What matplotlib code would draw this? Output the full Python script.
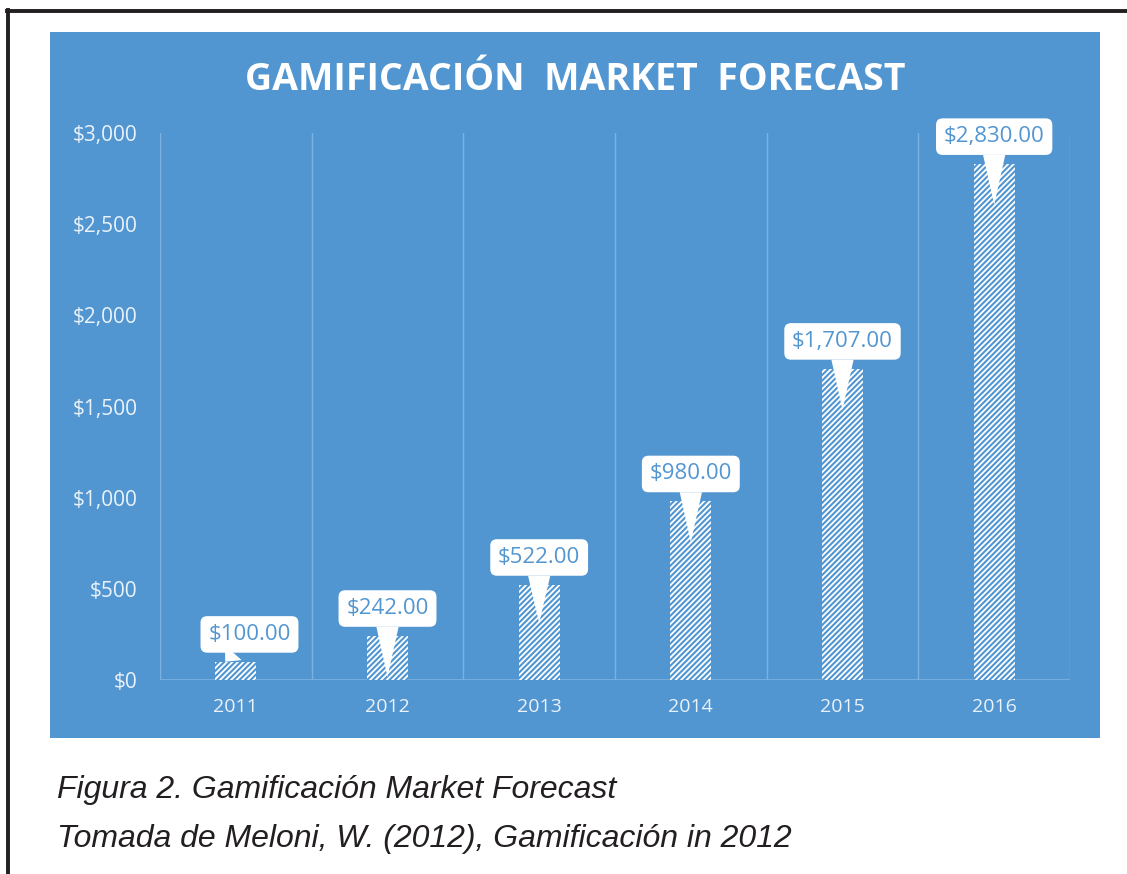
import numpy as np
import matplotlib
matplotlib.use('Agg')
import matplotlib.pyplot as plt
from matplotlib.patches import Rectangle

years = ['2011', '2012', '2013', '2014', '2015', '2016']
market = [100, 242, 522, 980, 1707, 2830]
yticks = [0, 500, 1000, 1500, 2000, 2500, 3000]

# how far each callout tail reaches down into its bar (data units)
tail_drop = [0, 225, 210, 225, 226, 225]
label_dx = [0.09, 0, 0, 0, 0, 0]

blue = '#5296D1'
grid = '#7DB1E0'
light = '#EAF2FA'

plt.rcParams['font.family'] = ['Open Sans', 'DejaVu Sans']
plt.rcParams['hatch.linewidth'] = 1.3

fig = plt.figure(figsize=(11.27, 8.74), dpi=100)
fig.patch.set_facecolor('white')

# outer black frame (top and left only)
fig.add_artist(plt.Line2D([7 / 1127, 1], [1 - 11 / 874, 1 - 11 / 874], color='#231F20', lw=2.8))
fig.add_artist(plt.Line2D([8 / 1127, 8 / 1127], [0, 1 - 10 / 874], color='#231F20', lw=2.8))

# blue chart panel
fig.add_artist(Rectangle((50 / 1127, 1 - 738 / 874), 1050 / 1127, 706 / 874,
                         transform=fig.transFigure, facecolor=blue, edgecolor='none', zorder=0))

ax = fig.add_axes([160 / 1127, 1 - 680 / 874, 910 / 1127, 547 / 874])
ax.set_facecolor('none')
x = np.arange(len(years))
ax.bar(x, market, width=0.27, color=blue, edgecolor='white', linewidth=0, hatch='//////', zorder=2)

ax.set_xlim(-0.5, len(years) - 0.5)
ax.set_ylim(0, 3000)
for g in np.arange(-0.5, len(years), 1):
    ax.axvline(g, color=grid, lw=1, zorder=1)
ax.axhline(0, color=grid, lw=1.2, zorder=1)

for s in ax.spines.values():
    s.set_visible(False)
ax.set_xticks(x)
ax.set_xticklabels(years, color=light, fontsize=14)
ax.set_yticks(yticks)
ax.set_yticklabels(['${:,}'.format(v) for v in yticks], color=light, fontsize=15)
ax.tick_params(length=0)
ax.tick_params(axis='x', pad=13)
ax.tick_params(axis='y', pad=16)

for i, v in enumerate(market):
    ax.annotate('${:,.2f}'.format(v), xy=(i - 0.07 * (i == 0), v - tail_drop[i]),
                xytext=(i + label_dx[i], v + 150), ha='center', va='center',
                fontsize=16, color=blue, zorder=5,
                bbox=dict(boxstyle='round,pad=0.35,rounding_size=0.3', fc='white', ec='none'),
                arrowprops=dict(arrowstyle='wedge,tail_width=1.0,shrink_factor=0.5',
                                fc='white', ec='none', shrinkA=0, shrinkB=0))

fig.text(575 / 1127, 1 - 80 / 874, 'GAMIFICACIÓN  MARKET  FORECAST', ha='center', va='center',
         color='white', fontsize=27, fontweight='bold')

fig.text(57 / 1127, 1 - 790 / 874, 'Figura 2. Gamificación Market Forecast',
         family='Liberation Sans', style='italic', fontsize=23, color='#231F20', va='center')
fig.text(57 / 1127, 1 - 839 / 874, 'Tomada de Meloni, W. (2012), Gamificación in 2012',
         family='Liberation Sans', style='italic', fontsize=23, color='#231F20', va='center')

fig.savefig('out.png', dpi=100)
